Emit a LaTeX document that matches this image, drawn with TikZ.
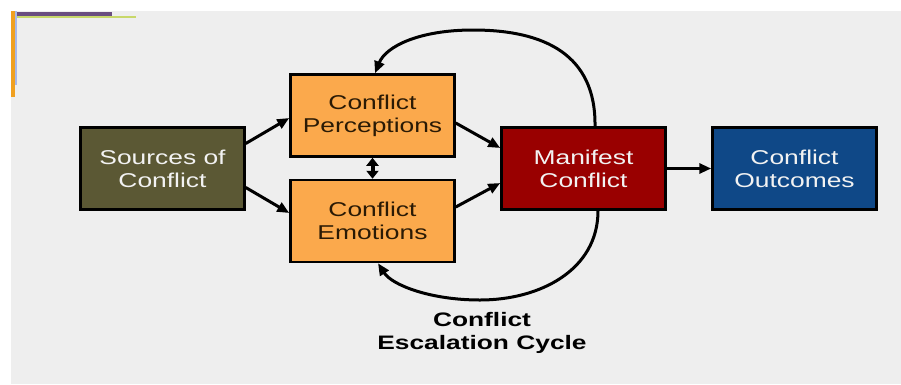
\documentclass[tikz,border=0pt]{standalone}
\usepackage{fontspec}
\setmainfont{Liberation Sans}
\newfontfamily\boxfont[FakeStretch=1.32]{Liberation Sans}
\newfontfamily\labfont[FakeStretch=1.35]{Liberation Sans Bold}
\usetikzlibrary{arrows.meta}
\definecolor{bggrey}{HTML}{EEEEEE}
\definecolor{olivebox}{HTML}{5B5834}
\definecolor{orangebox}{HTML}{FBA94C}
\definecolor{redbox}{HTML}{990000}
\definecolor{bluebox}{HTML}{0F4887}
\definecolor{darktext}{HTML}{2A1A05}
\definecolor{lighttext}{HTML}{F2F2F2}
\definecolor{decoorange}{HTML}{F0A020}
\definecolor{decopurple}{HTML}{6A4E80}
\definecolor{decogreen}{HTML}{C8D86A}
\definecolor{decoblue}{HTML}{A8B8E8}
\tikzset{
  box/.style={draw=black, line width=2.5pt, minimum width=164pt, minimum height=82pt,
    align=center, inner sep=0pt, font=\boxfont\fontsize{20}{23}\selectfont},
  conn/.style={line width=3pt, -{Triangle[length=12pt,width=10pt]}},
  dconn/.style={line width=4pt, {Triangle[length=8pt,width=12pt]}-{Triangle[length=8pt,width=12pt]}},
}
\begin{document}
\begin{tikzpicture}[x=1pt,y=-1pt]
\useasboundingbox (0,0) rectangle (901,384);
\fill[white] (0,0) rectangle (901,384);
\fill[bggrey] (11,11) rectangle (901,384);
% corner decoration
\fill[decoorange] (11,11) rectangle (15,97);
\fill[decoblue] (15,11) rectangle (17,85);
\fill[decopurple] (17,12) rectangle (112,16);
\fill[decogreen] (17,16) rectangle (136,18);
% boxes
\node[box, fill=olivebox, text=lighttext] (src) at (162.5,168.5) {Sources of\\Conflict};
\node[box, fill=orangebox, text=darktext] (per) at (372.5,115.5) {Conflict\\Perceptions};
\node[box, fill=orangebox, text=darktext] (emo) at (372.5,221) {Conflict\\Emotions};
\node[box, fill=redbox, text=lighttext] (man) at (583.5,168.5) {Manifest\\Conflict};
\node[box, fill=bluebox, text=lighttext] (out) at (794.5,168.5) {Conflict\\Outcomes};
% connectors
\draw[conn] ([yshift=25pt]src.east) -- ([yshift=-2.5pt]per.west);
\draw[conn] ([yshift=-19pt]src.east) -- ([yshift=8pt]emo.west);
\draw[conn] ([yshift=-7.5pt]per.east) -- ([yshift=20.5pt]man.west);
\draw[conn] ([yshift=14pt]emo.east) -- ([yshift=-14.5pt]man.west);
\draw[dconn] (per.south) -- (emo.north);
\draw[conn] (man.east) -- (out.west);
\draw[conn] ([xshift=11.5pt]man.north) .. controls (596,55) and (545,30) .. (473,30)
  .. controls (420,30) and (386,46) .. ([xshift=2.5pt]per.north);
\draw[conn] ([xshift=14.5pt]man.south) .. controls (598,270) and (540,300) .. (480,300)
  .. controls (430,300) and (392,285) .. ([xshift=5.5pt]emo.south);
% label
\node[align=center, inner sep=0pt, font=\labfont\fontsize{19.5}{23}\selectfont] (lab) at (482,333) {Conflict\\Escalation Cycle};
\end{tikzpicture}
\end{document}
